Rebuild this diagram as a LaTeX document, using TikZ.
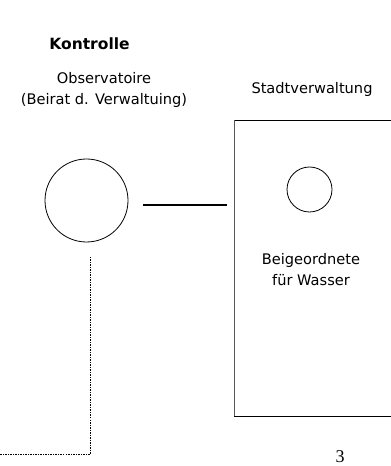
\documentclass[tikz,border=0pt]{standalone}
\usepackage{fontspec}
\setmainfont{DejaVu Sans}
\newfontfamily\serifnum{Liberation Serif}
\begin{document}
\begin{tikzpicture}[x=1pt,y=1pt,
  lbl/.style={inner sep=0pt,font=\fontsize{14.6}{21}\selectfont,align=center},
  circ/.style={circle,draw,line width=0.8pt,inner sep=0pt}]
\useasboundingbox (0,0) rectangle (391,466);
\begin{scope}
\clip (0,0) rectangle (391,466);
\node[lbl,font=\fontsize{15.5}{18}\selectfont\bfseries] (k) at (89.5,422) {Kontrolle};
\node[lbl] (obs) at (104,376) {Observatoire\\(Beirat d. Verwaltuing)};
\node[lbl] (sv) at (312,377) {Stadtverwaltung};
\draw[gray!70!black,line width=1pt] (234.5,346) -- (234.5,49.5);
\draw[line width=1pt] (234,49.5) -- (400,49.5);
\draw[line width=0.8pt] (234.5,346) -- (400,346);
\node[circ,minimum size=83pt] (big) at (86.5,265.5) {};
\node[circ,minimum size=45pt] (small) at (309.5,276.5) {};
\coordinate (h1) at (143,261);
\coordinate (h2) at (227,261);
\draw[line width=1.8pt] (h1) -- (h2);
\node[lbl] (bw) at (311,196) {Beigeordnete\\ für Wasser};
\coordinate (d1) at (90,209);
\coordinate (d2) at (90,12);
\coordinate (d3) at (0,12);
\draw[dash pattern=on 1.5pt off 1pt,line width=0.7pt] (d1) -- (d2) -- (d3);
\node[inner sep=0pt,font=\serifnum\fontsize{18}{20}\selectfont] (num) at (340,9) {3};
\end{scope}
\end{tikzpicture}
\end{document}
